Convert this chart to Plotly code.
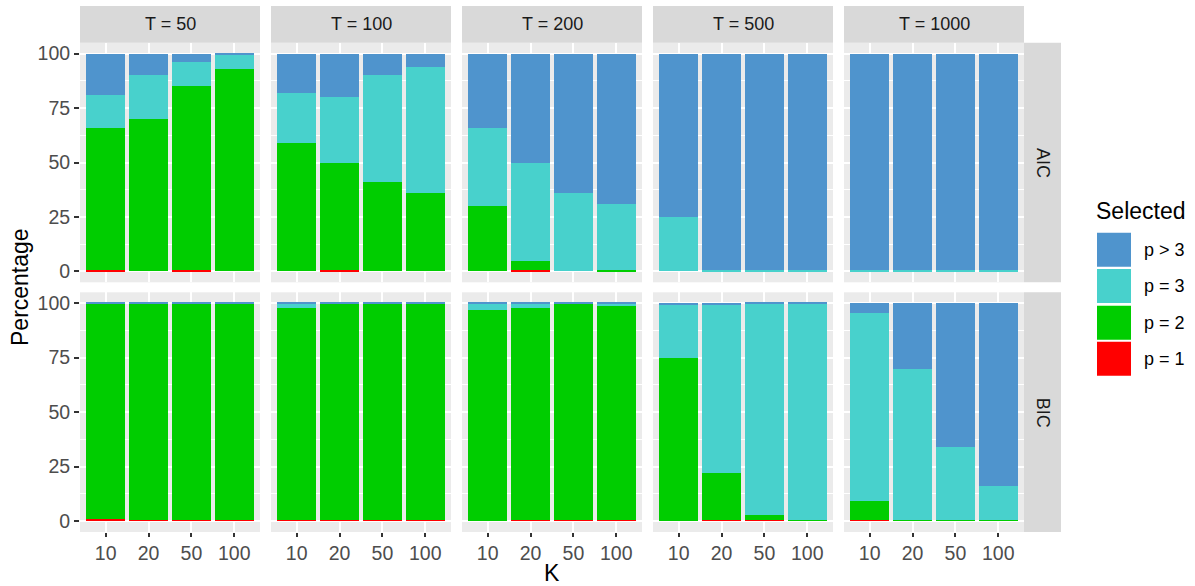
import plotly.graph_objects as go

# ---------------- data ----------------
T_labels = ["T = 50", "T = 100", "T = 200", "T = 500", "T = 1000"]
K_labels = ["10", "20", "50", "100"]
criteria = ["AIC", "BIC"]
series_names = ["p = 1", "p = 2", "p = 3", "p > 3"]
series_colors = ["#FF0000", "#00CD00", "#48D1CC", "#4F94CD"]

# percentages, one row per T (50, 100, 200, 500, 1000), one column per K (10, 20, 50, 100)
aic_p1 = [[0.5, 0, 0.5, 0], [0, 0.5, 0, 0], [0, 0.5, 0, 0], [0, 0, 0, 0], [0, 0, 0, 0]]
aic_p2 = [[65.5, 70, 84.5, 93], [59, 49.5, 41, 36], [30, 4.5, 0, 0.5], [0, 0, 0, 0], [0, 0, 0, 0]]
aic_p3 = [[15, 20, 11, 6.5], [23, 30, 49, 58], [36, 45, 36, 30.5], [25, 0.5, 0.5, 0.5], [0.5, 0.5, 0.5, 0.5]]
aic_p4 = [[19, 10, 4, 0.5], [18, 20, 10, 6], [34, 50, 64, 69], [75, 99.5, 99.5, 99.5], [99.5, 99.5, 99.5, 99.5]]

bic_p1 = [[1, 0.5, 0.5, 0.5], [0.5, 0.5, 0.5, 0.5], [0, 0.5, 0.5, 0.5], [0, 0.5, 0.5, 0], [0.5, 0, 0, 0]]
bic_p2 = [[98.5, 99, 99, 99], [97.5, 99, 99, 99], [97, 97.5, 99, 98.5], [75, 21.5, 2.5, 0.5], [8.5, 0.5, 0.5, 0.5]]
bic_p3 = [[0, 0, 0, 0], [1.5, 0, 0, 0], [2.5, 1.5, 0, 0.5], [24, 77, 96.5, 99], [86.5, 69.5, 33.5, 15.5]]
bic_p4 = [[0.5, 0.5, 0.5, 0.5], [0.5, 0.5, 0.5, 0.5], [0.5, 0.5, 0.5, 0.5], [1, 1, 0.5, 0.5], [4.5, 30, 66, 84]]

y_ticks = [0, 25, 50, 75, 100]

data_by_crit = {
    "AIC": [aic_p1, aic_p2, aic_p3, aic_p4],
    "BIC": [bic_p1, bic_p2, bic_p3, bic_p4],
}

# ---------------- layout geometry (pixels) ----------------
W, H = 1195, 586
FONT = "Liberation Sans, Arial, sans-serif"
TICK_SIZE = 19.5
STRIP_SIZE = 18
TITLE_SIZE = 23
col_x0 = [80, 271, 462, 653, 844]
col_w = 180
row_y = [(42.7, 282.3), (292.3, 532.0)]
strip_top = (6.0, 42.7)
strip_right = (1024.0, 1061.0)


def px(x):
    return x / W


def py(y):
    return 1 - y / H


fig = go.Figure()
layout = {}

for r, crit in enumerate(criteria):
    series = data_by_crit[crit]
    for c in range(len(T_labels)):
        n = r * 5 + c + 1
        xa = "x" if n == 1 else f"x{n}"
        ya = "y" if n == 1 else f"y{n}"
        for s, name in enumerate(series_names):
            fig.add_trace(go.Bar(
                x=K_labels, y=series[s][c], name=name,
                marker=dict(color=series_colors[s], line=dict(width=0)),
                width=0.9, xaxis=xa, yaxis=ya, showlegend=False,
                hovertemplate=f"{crit}, {T_labels[c]}<br>K=%{{x}}<br>{name}: %{{y}}%<extra></extra>",
            ))
        x0 = col_x0[c]
        x1 = x0 + col_w if c < 4 else 1024
        y0, y1 = row_y[r]
        bottom = (r == 1)
        left = (c == 0)
        layout["xaxis" if n == 1 else f"xaxis{n}"] = dict(
            domain=[px(x0), px(x1)], anchor=ya, type="category",
            categoryorder="array", categoryarray=K_labels,
            range=[-0.6, 3.6], showgrid=True, gridcolor="white", gridwidth=2,
            zeroline=False, showline=False,
            showticklabels=bottom, ticks="outside" if bottom else "",
            ticklen=4, tickwidth=1.5, tickcolor="#333333",
            tickfont=dict(size=TICK_SIZE, color="#4D4D4D", family=FONT),
            fixedrange=True,
        )
        layout["yaxis" if n == 1 else f"yaxis{n}"] = dict(
            domain=[py(y1), py(y0)], anchor=xa,
            range=[-5, 105], tickvals=y_ticks,
            showgrid=True, gridcolor="white", gridwidth=2,
            minor=dict(tickvals=[12.5, 37.5, 62.5, 87.5], showgrid=True,
                       gridcolor="white", gridwidth=1, ticks=""),
            zeroline=False, showline=False,
            showticklabels=left, ticks="outside" if left else "",
            ticklen=5, tickwidth=1.5, tickcolor="#333333",
            tickfont=dict(size=TICK_SIZE, color="#4D4D4D", family=FONT),
            fixedrange=True,
        )

shapes = []
annotations = []

# top strips
for c, lab in enumerate(T_labels):
    x0 = col_x0[c]
    x1 = x0 + col_w if c < 4 else 1024
    shapes.append(dict(type="rect", xref="paper", yref="paper",
                       x0=px(x0), x1=px(x1), y0=py(strip_top[1]), y1=py(strip_top[0]),
                       fillcolor="#D9D9D9", line=dict(width=0), layer="below"))
    annotations.append(dict(text=lab, xref="paper", yref="paper",
                            x=px((x0 + x1) / 2), y=py(sum(strip_top) / 2),
                            showarrow=False, xanchor="center", yanchor="middle",
                            font=dict(size=STRIP_SIZE, color="#1A1A1A", family=FONT)))

# right strips
for r, lab in enumerate(criteria):
    y0, y1 = row_y[r]
    shapes.append(dict(type="rect", xref="paper", yref="paper",
                       x0=px(strip_right[0]), x1=px(strip_right[1]), y0=py(y1), y1=py(y0),
                       fillcolor="#D9D9D9", line=dict(width=0), layer="below"))
    annotations.append(dict(text=lab, xref="paper", yref="paper",
                            x=px(sum(strip_right) / 2), y=py((y0 + y1) / 2),
                            showarrow=False, xanchor="center", yanchor="middle", textangle=90,
                            font=dict(size=STRIP_SIZE, color="#1A1A1A", family=FONT)))

# axis titles
annotations.append(dict(text="K", xref="paper", yref="paper", x=px(552), y=py(573),
                        showarrow=False, xanchor="center", yanchor="middle",
                        font=dict(size=TITLE_SIZE, color="black", family=FONT)))
annotations.append(dict(text="Percentage", xref="paper", yref="paper", x=px(20), y=py(287),
                        showarrow=False, xanchor="center", yanchor="middle", textangle=-90,
                        font=dict(size=TITLE_SIZE, color="black", family=FONT)))

# legend (manual, ggplot-style large keys)
annotations.append(dict(text="Selected", xref="paper", yref="paper", x=px(1094), y=py(211),
                        showarrow=False, xanchor="left", yanchor="middle",
                        font=dict(size=TITLE_SIZE, color="black", family=FONT)))
key_tops = [232.7, 269.0, 305.7, 341.7]
legend_order = [3, 2, 1, 0]
for i, s in enumerate(legend_order):
    t = key_tops[i]
    shapes.append(dict(type="rect", xref="paper", yref="paper",
                       x0=px(1097), x1=px(1131), y0=py(t + 34), y1=py(t),
                       fillcolor=series_colors[s], line=dict(width=0)))
    annotations.append(dict(text=series_names[s], xref="paper", yref="paper",
                            x=px(1142), y=py(t + 17), showarrow=False,
                            xanchor="left", yanchor="middle",
                            font=dict(size=STRIP_SIZE, color="black", family=FONT)))

fig.update_layout(
    **layout,
    width=W, height=H,
    margin=dict(l=0, r=0, t=0, b=0),
    paper_bgcolor="white", plot_bgcolor="#EBEBEB",
    barmode="stack", bargap=0.1,
    showlegend=False,
    shapes=shapes, annotations=annotations,
    font=dict(family=FONT),
)

fig.write_html(
    "out.html",
    config={"displayModeBar": False},
    post_script="document.body.style.margin='0';document.body.style.overflow='hidden';",
)
